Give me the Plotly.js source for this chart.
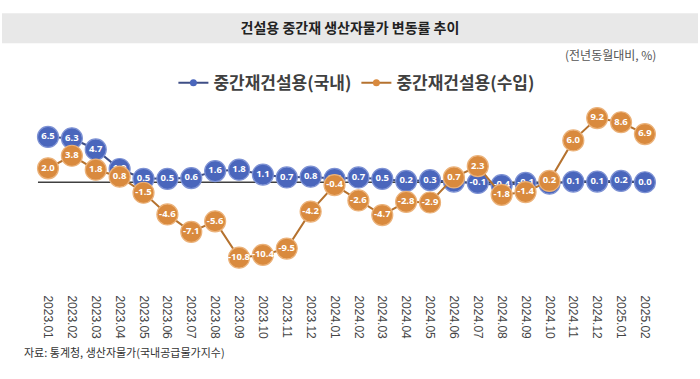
<!DOCTYPE html>
<html>
<head>
<meta charset="utf-8">
<script src="https://cdn.plot.ly/plotly-3.0.1.min.js"></script>
<style>html,body{margin:0;padding:0;background:#fff;}#chart{width:700px;height:379px;}</style>
</head>
<body>
<div id="chart"></div>
<script>
const months = ["2023.01","2023.02","2023.03","2023.04","2023.05","2023.06","2023.07","2023.08","2023.09","2023.10","2023.11","2023.12","2024.01","2024.02","2024.03","2024.04","2024.05","2024.06","2024.07","2024.08","2024.09","2024.10","2024.11","2024.12","2025.01","2025.02"];
const domestic = [6.5,6.3,4.7,1.9,0.5,0.5,0.6,1.6,1.8,1.1,0.7,0.8,0.5,0.7,0.5,0.2,0.3,0.1,-0.1,-0.4,-0.1,-0.2,0.1,0.1,0.2,0.0];
const imported = [2.0,3.8,1.8,0.8,-1.5,-4.6,-7.1,-5.6,-10.8,-10.4,-9.5,-4.2,-0.4,-2.6,-4.7,-2.8,-2.9,0.7,2.3,-1.8,-1.4,0.2,6.0,9.2,8.6,6.9];
const seriesNames = ["중간재건설용(국내)","중간재건설용(수입)"];
const titleText = "건설용 중간재 생산자물가 변동률 추이";
const unitText = "(전년동월대비, %)";
const sourceText = "자료: 통계청, 생산자물가(국내공급물가지수)";

const blueFill = "#4A66BC", blueLine = "#3E4E86", blueEdge = "#7E92D4";
const orangeFill = "#D98A3E", orangeLine = "#B5722F", orangeEdge = "#EBB27A";
const kfont = "'Noto Sans CJK KR', 'Noto Sans', sans-serif";

function series(y, fill, line, edge) {
  return {
    x: months, y: y, type: "scatter", mode: "lines+markers+text",
    line: {color: line, width: 2},
    marker: {size: 21, color: fill, line: {color: edge, width: 1.2}},
    text: y.map(v => v.toFixed(1)),
    textposition: "middle center",
    textfont: {color: "#ffffff", size: 9.5, family: "'Noto Sans', sans-serif", weight: "bold"},
    cliponaxis: false, showlegend: false, hoverinfo: "x+y"
  };
}
function legendItem(name, fill, line) {
  return {
    x: [null], y: [null], type: "scatter", mode: "lines+markers", name: name,
    line: {color: line, width: 2}, marker: {size: 7, color: fill}, showlegend: true
  };
}

const data = [
  series(domestic, blueFill, blueLine, blueEdge),
  series(imported, orangeFill, orangeLine, orangeEdge),
  legendItem(seriesNames[0], blueFill, blueLine),
  legendItem(seriesNames[1], orangeFill, orangeLine)
];

const layout = {
  width: 700, height: 379,
  margin: {l: 30, r: 30, t: 102, b: 98.5},
  paper_bgcolor: "#ffffff", plot_bgcolor: "#ffffff",
  font: {family: kfont, color: "#404040"},
  title: {text: titleText, x: 0.5, xanchor: "center", y: 0.926, yanchor: "middle",
          font: {size: 14, color: "#222222", family: kfont, weight: "bold"}},
  xaxis: {type: "category", range: [-0.754, 26.05], showgrid: false, zeroline: false,
          showline: false, tickangle: 90, ticks: "outside", ticklen: 12, tickcolor: "rgba(0,0,0,0)",
          tickfont: {size: 12, color: "#444444", family: "'Liberation Sans', sans-serif"}},
  yaxis: {range: [-14, 11.5], showgrid: false, zeroline: false, showticklabels: false,
          showline: false, ticks: ""},
  showlegend: true,
  legend: {orientation: "h", x: 0.51, xanchor: "center", y: 1.106, yanchor: "middle",
           font: {size: 17, color: "#404040", family: kfont, weight: "bold"},
           itemwidth: 30, bgcolor: "rgba(0,0,0,0)"},
  shapes: [
    {type: "rect", xref: "paper", yref: "paper", x0: -0.04375, x1: 1.04375, y0: 1.3305, y1: 1.4986,
     fillcolor: "#E8E8E8", line: {width: 0}, layer: "below"},
    {type: "line", xref: "x", yref: "y", x0: -0.42, x1: 25.4, y0: 0, y1: 0,
     line: {color: "#404040", width: 1.5}, layer: "below"}
  ],
  annotations: [
    {text: unitText, xref: "paper", yref: "paper", x: 0.981, y: 1.269, xanchor: "right", yanchor: "middle",
     showarrow: false, font: {size: 12, color: "#555555", family: kfont}},
    {text: sourceText, xref: "paper", yref: "paper", x: -0.0125, y: -0.405, xanchor: "left", yanchor: "middle",
     showarrow: false, font: {size: 11, color: "#333333", family: kfont}}
  ]
};

Plotly.newPlot("chart", data, layout, {displayModeBar: false, staticPlot: true});
</script>
</body>
</html>
